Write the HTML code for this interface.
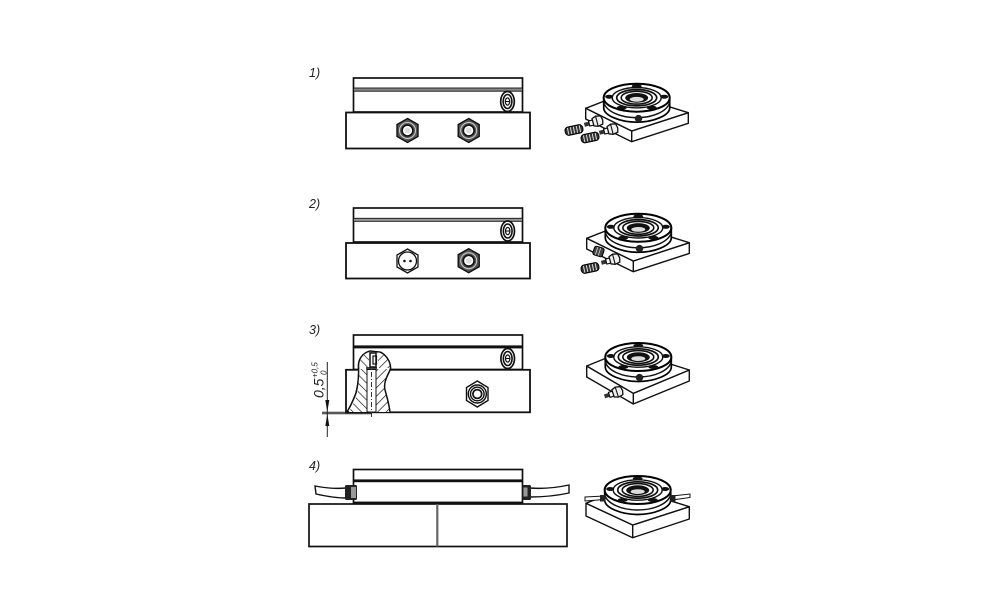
<!DOCTYPE html>
<html>
<head>
<meta charset="utf-8">
<style>
html,body{margin:0;padding:0;background:#fff;width:1000px;height:611px;overflow:hidden}
svg{display:block;filter:blur(0.35px)}
text{font-family:"Liberation Sans",sans-serif;font-style:italic;fill:#222}
</style>
</head>
<body>
<svg width="1000" height="611" viewBox="0 0 1000 611" xmlns="http://www.w3.org/2000/svg">
<defs>
<pattern id="hL" width="6" height="6" patternUnits="userSpaceOnUse" patternTransform="rotate(45)">
<rect width="6" height="6" fill="#fff"/><line x1="0" y1="0" x2="0" y2="6" stroke="#111" stroke-width="1.3"/>
</pattern>
<pattern id="hR" width="6" height="6" patternUnits="userSpaceOnUse" patternTransform="rotate(-45)">
<rect width="6" height="6" fill="#fff"/><line x1="0" y1="0" x2="0" y2="6" stroke="#111" stroke-width="1.3"/>
</pattern>

<g id="nut">
<polygon points="0,-12 10.5,-6 10.5,6 0,12 -10.5,6 -10.5,-6" fill="#555" stroke="#111" stroke-width="1.4"/>
<circle r="8" fill="#555" stroke="#ccc" stroke-width="1"/>
<circle r="5.4" fill="#fff" stroke="#111" stroke-width="1.6"/>
<circle r="3" fill="#ddd"/>
</g>

<g id="plug">
<ellipse rx="6.8" ry="10" fill="#fff" stroke="#111" stroke-width="1.7"/>
<ellipse rx="4.4" ry="7" fill="#fff" stroke="#111" stroke-width="1.6"/>
<line x1="-2.4" x2="2.6" y1="0" y2="0" stroke="#111" stroke-width="1.1"/>
<ellipse rx="2.2" ry="3.6" fill="none" stroke="#111" stroke-width="1.2"/>
</g>

<g id="flange">
<path d="M-33,0 V10 C-33,18 -16,24.5 0,24.5 C16,24.5 33,18 33,10 V0 Z" fill="#fff" stroke="#000" stroke-width="1.7"/>
<path d="M-33,5 C-30,14 -16,20 0,20 C16,20 30,14 33,5" fill="none" stroke="#111" stroke-width="1.5"/>
<ellipse rx="33" ry="14" fill="#fff" stroke="#000" stroke-width="2"/>
<ellipse rx="24.5" ry="10.2" fill="#fff" stroke="#111" stroke-width="1.4"/>
<ellipse rx="20" ry="8.2" fill="none" stroke="#111" stroke-width="1.7"/>
<ellipse rx="15.5" ry="6.4" fill="none" stroke="#111" stroke-width="1.6"/>
<ellipse cx="0" cy="0.2" rx="11.5" ry="4.9" fill="#111"/>
<ellipse cx="0" cy="1.6" rx="7" ry="2.4" fill="#ddd"/>
<ellipse cx="-27.5" cy="-1" rx="4" ry="2" fill="#111"/>
<ellipse cx="27.5" cy="-1" rx="4" ry="2" fill="#111"/>
<ellipse cx="-15" cy="10" rx="5" ry="2" fill="#111"/>
<ellipse cx="15" cy="10" rx="5" ry="2" fill="#111"/>
<ellipse cx="0" cy="-11.5" rx="5" ry="1.8" fill="#111"/>
</g>

<g id="fitting">
<rect x="-11" y="-2" width="6" height="4" fill="#333"/>
<rect x="-6" y="-2.6" width="5" height="5.2" fill="#fff" stroke="#111" stroke-width="1.2"/>
<polygon points="-2,-4 2,-5.5 7,-4.5 8,0 7,4 2,5 -2,3.5" fill="#eee" stroke="#111" stroke-width="1.3"/>
<path d="M2,-5 V5" stroke="#111" stroke-width="1.1"/>
</g>
<g id="conn">
<rect x="-9" y="-4.2" width="18" height="8.4" rx="3.5" fill="#333" stroke="#000"/>
<path d="M-6,-3.4 V3.4 M-3,-3.4 V3.4 M0,-3.4 V3.4 M3,-3.4 V3.4 M6,-3.4 V3.4" stroke="#ddd" stroke-width="1"/>
</g>
</defs>

<!-- labels -->
<text x="309" y="77" font-size="12.5">1)</text>
<text x="309" y="208" font-size="12.5">2)</text>
<text x="309" y="334" font-size="12.5">3)</text>
<text x="309" y="470" font-size="12.5">4)</text>

<!-- ROW 1 side -->
<g fill="#fff" stroke="#111">
<rect x="353.5" y="78" width="169" height="34" stroke-width="1.7"/>
<rect x="346" y="112.5" width="184" height="36" stroke-width="1.8"/>
</g>
<rect x="353.5" y="88" width="169" height="3.2" fill="#888" stroke="#111" stroke-width="0.9"/>
<use href="#plug" x="507.5" y="101.5"/>
<use href="#nut" x="407.5" y="130.5"/>
<use href="#nut" x="468.7" y="130.5"/>

<!-- ROW 1 iso -->
<g fill="#fff" stroke="#111" stroke-width="1.4" stroke-linejoin="round">
<polygon points="585.7,108.3 631.7,131 688.3,112.7 688.3,123.3 631.7,141.7 585.7,119"/>
<polygon points="585.7,108.3 625,93 688.3,112.7 631.7,131"/>
<line x1="631.7" y1="131" x2="631.7" y2="141.7"/>
</g>
<use href="#flange" x="636.7" y="97.7"/>
<ellipse cx="638.5" cy="118.5" rx="3.8" ry="3.6" fill="#222"/>
<use href="#fitting" transform="translate(595,122) rotate(-15)"/>
<use href="#fitting" transform="translate(610,130) rotate(-15)"/>
<use href="#conn" transform="translate(574,130) rotate(-12)"/>
<use href="#conn" transform="translate(590,137.5) rotate(-12)"/>

<!-- ROW 2 side -->
<g fill="#fff" stroke="#111">
<rect x="353.5" y="208" width="169" height="34" stroke-width="1.7"/>
<rect x="346" y="243" width="184" height="35.5" stroke-width="1.8"/>
</g>
<rect x="353.5" y="218.3" width="169" height="3" fill="#999" stroke="#111" stroke-width="0.9"/>
<use href="#plug" x="507.7" y="231"/>
<g>
<polygon points="407.5,249 418,255 418,267 407.5,273 397,267 397,255" fill="#fff" stroke="#111" stroke-width="1.3"/>
<circle cx="407.5" cy="261" r="9" fill="#fff" stroke="#111" stroke-width="1.3"/>
<circle cx="404.5" cy="261" r="1.3" fill="#111"/>
<circle cx="410.5" cy="261" r="1.3" fill="#111"/>
</g>
<use href="#nut" x="468.7" y="260.7"/>

<!-- ROW 2 iso -->
<g fill="#fff" stroke="#111" stroke-width="1.4" stroke-linejoin="round">
<polygon points="586.7,238.3 633.3,261 689.3,242.7 689.3,253.4 633.3,271.7 586.7,249"/>
<polygon points="586.7,238.3 626,223 689.3,242.7 633.3,261"/>
<line x1="633.3" y1="261" x2="633.3" y2="271.7"/>
</g>
<use href="#flange" x="638.3" y="227.8"/>
<ellipse cx="639.5" cy="248.5" rx="3.8" ry="3.6" fill="#222"/>
<g transform="translate(598.5,251.5) rotate(18)">
<rect x="-5" y="-4.5" width="10" height="9" rx="2" fill="#444" stroke="#000"/>
<path d="M-2,-4 V4 M1,-4 V4" stroke="#ccc" stroke-width="0.9"/>
</g>
<use href="#fitting" transform="translate(612,260) rotate(-15)"/>
<use href="#conn" transform="translate(590,268) rotate(-12)"/>

<!-- ROW 3 side -->
<g fill="#fff" stroke="#111">
<rect x="353.5" y="335" width="169" height="34.5" stroke-width="1.7"/>
<rect x="346" y="369.8" width="184" height="42.5" stroke-width="1.8"/>
</g>
<rect x="353.5" y="345.4" width="169" height="3" fill="#111"/>
<use href="#plug" x="507.7" y="358.5"/>
<g>
<polygon points="477.3,381 488,387.5 488,400.5 477.3,407 466.5,400.5 466.5,387.5" fill="#fff" stroke="#111" stroke-width="1.4"/>
<circle cx="477.3" cy="394" r="9" fill="#fff" stroke="#111" stroke-width="1.4"/>
<circle cx="477.3" cy="394" r="6.8" fill="#fff" stroke="#111" stroke-width="1.4"/>
<circle cx="477.3" cy="394" r="4.4" fill="#fff" stroke="#111" stroke-width="1.7"/>
</g>

<!-- cutaway -->
<path d="M370,351 C362,353 358,360 358.5,367 C359,376 358,385 356,393 C353,401 350,407 347,412 H390 C389,405 387,397 385,390 C383,382 388,375 390.5,369 C391,361 385,354 380,352 Z" fill="#fff" stroke="#111" stroke-width="1.4"/>
<path d="M359,369 H367 V412 H349 C353,405 356,398 358,390 Z" fill="url(#hR)" stroke="none"/>
<path d="M376,369 H389 C387,375 383,382 385,390 C387,397 389,405 390,412 H376 Z" fill="url(#hL)" stroke="none"/>
<path d="M360,365 C359,358 363,354 370,352 L368,367 H361 Z" fill="url(#hR)" stroke="none"/>
<path d="M377,352 C384,354 390,360 390,368 H379 Z" fill="url(#hL)" stroke="none"/>
<path d="M370,351 C362,353 358,360 358.5,367 C359,376 358,385 356,393 C353,401 350,407 347,412 M380,352 C385,354 391,361 390.5,369 C388,375 383,382 385,390 C387,397 389,405 390,412" fill="none" stroke="#111" stroke-width="1.4"/>
<rect x="366" y="367" width="11" height="2.5" fill="#444"/>
<rect x="367" y="369.5" width="9" height="42.5" fill="#fff" stroke="#111" stroke-width="1"/>
<line x1="371.5" y1="352" x2="371.5" y2="418" stroke="#333" stroke-width="1" stroke-dasharray="5 2 1 2"/>
<rect x="370" y="353" width="6" height="14" fill="#fff" stroke="#111" stroke-width="1.5"/>
<rect x="373" y="356" width="3.5" height="8" fill="none" stroke="#111" stroke-width="1.2"/>

<!-- dimension -->
<g stroke="#222" stroke-width="1" fill="none">
<line x1="327.3" y1="362" x2="327.3" y2="437"/>
<line x1="322" y1="412.3" x2="346" y2="412.3"/>
<line x1="322" y1="413.8" x2="372" y2="413.8"/>
</g>
<polygon points="327.3,412 325.3,400 329.3,400" fill="#111"/>
<polygon points="327.3,414 325.3,426 329.3,426" fill="#111"/>
<text transform="translate(323.5,398) rotate(-90)" font-size="14">0,5</text>
<text transform="translate(317.5,378) rotate(-90)" font-size="8">+0,5</text>
<text transform="translate(326.5,375) rotate(-90)" font-size="8">0</text>

<!-- ROW 3 iso -->
<g fill="#fff" stroke="#111" stroke-width="1.4" stroke-linejoin="round">
<polygon points="586.7,366 633.3,393.3 689.3,370 689.3,381 633.3,404 586.7,377"/>
<polygon points="586.7,366 626,350 689.3,370 633.3,393.3"/>
<line x1="633.3" y1="393.3" x2="633.3" y2="404"/>
</g>
<use href="#flange" x="638.3" y="357"/>
<ellipse cx="639.5" cy="377.5" rx="3.8" ry="3.6" fill="#222"/>
<use href="#fitting" transform="translate(615,393) rotate(-18)"/>

<!-- ROW 4 side -->
<path d="M315,486 C325,488 335,489 346,488 L346,498 C335,498 325,496 316,494 Z" fill="#fff" stroke="#111" stroke-width="1.4"/>
<path d="M530,488 C542,489 555,488 569,485 L569,493 C555,496 542,497 530,497 Z" fill="#fff" stroke="#111" stroke-width="1.4"/>
<rect x="353.5" y="469.5" width="169" height="33" fill="#fff" stroke="#111" stroke-width="1.7"/>
<rect x="353.5" y="479.4" width="169" height="2.8" fill="#111"/>
<rect x="345" y="485" width="12" height="15" rx="1.5" fill="#222"/>
<rect x="351" y="487" width="5" height="11" fill="#999"/>
<rect x="522.5" y="485" width="8.5" height="15" rx="1.5" fill="#222"/>
<rect x="523.5" y="487.5" width="4" height="9" fill="#999"/>
<rect x="309" y="504" width="258" height="42.5" fill="#fff" stroke="#111" stroke-width="1.7"/>
<rect x="353" y="501.8" width="170" height="2.4" fill="#111"/>
<rect x="436.2" y="504" width="2.2" height="42.5" fill="#666"/>

<!-- ROW 4 iso -->
<g fill="#fff" stroke="#111" stroke-width="1.4" stroke-linejoin="round">
<polygon points="586,503.3 632.7,525 689.3,506.7 689.3,519 632.7,537.7 586,516"/>
<polygon points="586,503.3 626,487 689.3,506.7 632.7,525"/>
<line x1="632.7" y1="525" x2="632.7" y2="537.7"/>
</g>
<path d="M585,497 L604,496 L604,499.5 L585,501 Z" fill="#fff" stroke="#111"/>
<path d="M672,496 L690,494 L690,497.5 L672,500 Z" fill="#fff" stroke="#111"/>
<use href="#flange" x="637.7" y="490"/>
<rect x="600" y="495" width="5.5" height="6.5" fill="#222"/>
<rect x="670" y="495" width="5.5" height="6.5" fill="#222"/>
</svg>
</body>
</html>
